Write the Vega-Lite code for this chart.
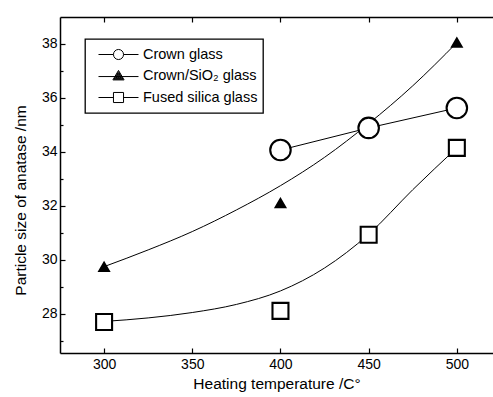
{
  "$schema": "https://vega.github.io/schema/vega-lite/v6.json",
  "width": 433,
  "height": 336,
  "autosize": "none",
  "padding": {"left": 60, "top": 17, "right": 0, "bottom": 44},
  "background": "white",
  "datasets": {
    "pts": [
      {"s": "Crown glass", "t": 400, "v": 34.07},
      {"s": "Crown glass", "t": 450, "v": 34.89},
      {"s": "Crown glass", "t": 500, "v": 35.63},
      {"s": "Crown/SiO₂ glass", "t": 300, "v": 29.74},
      {"s": "Crown/SiO₂ glass", "t": 400, "v": 32.1},
      {"s": "Crown/SiO₂ glass", "t": 500, "v": 38.05},
      {"s": "Fused silica glass", "t": 300, "v": 27.7},
      {"s": "Fused silica glass", "t": 400, "v": 28.11},
      {"s": "Fused silica glass", "t": 450, "v": 30.93},
      {"s": "Fused silica glass", "t": 500, "v": 34.15}
    ],
    "fit": [
      {"s": "Crown/SiO₂ glass", "t": 300, "v": 29.75},
      {"s": "Crown/SiO₂ glass", "t": 325, "v": 30.37},
      {"s": "Crown/SiO₂ glass", "t": 350, "v": 31.05},
      {"s": "Crown/SiO₂ glass", "t": 375, "v": 31.85},
      {"s": "Crown/SiO₂ glass", "t": 400, "v": 32.75},
      {"s": "Crown/SiO₂ glass", "t": 425, "v": 33.8},
      {"s": "Crown/SiO₂ glass", "t": 450, "v": 35.05},
      {"s": "Crown/SiO₂ glass", "t": 475, "v": 36.45},
      {"s": "Crown/SiO₂ glass", "t": 500, "v": 38.05},
      {"s": "Fused silica glass", "t": 300, "v": 27.72},
      {"s": "Fused silica glass", "t": 325, "v": 27.85},
      {"s": "Fused silica glass", "t": 350, "v": 28.05},
      {"s": "Fused silica glass", "t": 375, "v": 28.35},
      {"s": "Fused silica glass", "t": 400, "v": 28.85},
      {"s": "Fused silica glass", "t": 425, "v": 29.7},
      {"s": "Fused silica glass", "t": 450, "v": 30.95},
      {"s": "Fused silica glass", "t": 475, "v": 32.6},
      {"s": "Fused silica glass", "t": 500, "v": 34.15}
    ]
  },
  "resolve": {
    "axis": {"x": "independent", "y": "independent"},
    "scale": {"shape": "independent", "fill": "independent", "size": "independent"},
    "legend": {"shape": "independent", "fill": "independent", "size": "independent"}
  },
  "layer": [
    {
      "data": {"name": "pts"},
      "transform": [{"filter": "datum.s === 'Crown glass'"}],
      "mark": {"type": "line", "color": "black", "strokeWidth": 1},
      "encoding": {
        "x": {
          "field": "t", "type": "quantitative",
          "scale": {"domain": [275, 520.5], "nice": false, "zero": false},
          "axis": {
            "orient": "bottom",
            "values": [300, 350, 400, 450, 500],
            "tickSize": -5,
            "labelPadding": 9,
            "title": "Heating temperature /C°",
            "titlePadding": 5
          }
        },
        "y": {
          "field": "v", "type": "quantitative",
          "scale": {"domain": [26.55, 39], "nice": false, "zero": false},
          "axis": {
            "orient": "left",
            "values": [28, 30, 32, 34, 36, 38],
            "tickSize": -5,
            "labelPadding": 8,
            "title": "Particle size of anatase /nm",
            "titleX": -40,
            "titleY": 183,
            "titleAlign": "center",
            "titleBaseline": "middle"
          }
        }
      }
    },
    {
      "data": {"name": "fit"},
      "mark": {"type": "line", "color": "black", "strokeWidth": 1, "interpolate": "monotone"},
      "encoding": {
        "x": {
          "field": "t", "type": "quantitative",
          "axis": {"orient": "top", "values": [300, 350, 400, 450, 500], "tickSize": -5, "labels": false, "title": null}
        },
        "y": {
          "field": "v", "type": "quantitative",
          "axis": {"orient": "left", "values": [27, 29, 31, 33, 35, 37], "tickSize": -3, "labels": false, "domain": false, "title": null}
        },
        "detail": {"field": "s"}
      }
    },
    {
      "data": {"name": "pts"},
      "mark": {"type": "point", "filled": true, "stroke": "black", "strokeWidth": 2.1, "opacity": 1},
      "encoding": {
        "x": {"field": "t", "type": "quantitative", "axis": null},
        "y": {"field": "v", "type": "quantitative", "axis": null},
        "shape": {
          "field": "s", "type": "nominal",
          "scale": {"domain": ["Crown glass", "Crown/SiO₂ glass", "Fused silica glass"], "range": ["circle", "triangle-up", "square"]},
          "legend": null
        },
        "fill": {
          "field": "s", "type": "nominal",
          "scale": {"domain": ["Crown glass", "Crown/SiO₂ glass", "Fused silica glass"], "range": ["white", "black", "white"]},
          "legend": null
        },
        "size": {
          "field": "s", "type": "nominal",
          "scale": {"domain": ["Crown/SiO₂ glass", "Fused silica glass", "Crown glass"], "range": [90, 420]},
          "legend": null
        }
      }
    },
    {
      "data": {"name": "pts"},
      "mark": {"type": "point", "filled": false, "stroke": "black", "strokeWidth": 1, "opacity": 0},
      "encoding": {
        "shape": {
          "field": "s", "type": "nominal",
          "scale": {
            "domain": ["Crown glass", "Crown/SiO₂ glass", "Fused silica glass"],
            "range": [
              "M-0.714,0H-0.18M-0.18,0A0.18,0.18,0,1,1,0.18,0A0.18,0.18,0,1,1,-0.18,0ZM0.18,0H0.714",
              "M-0.714,0.02H0.714M0,-0.2L0.2,0.14L-0.2,0.14ZM0,-0.155L0.16,0.117L-0.16,0.117ZM0,-0.109L0.12,0.095L-0.12,0.095ZM0,-0.064L0.08,0.072L-0.08,0.072ZM0,-0.018L0.04,0.05L-0.04,0.05Z",
              "M-0.714,0H-0.18M0.18,0H0.714M-0.18,-0.18H0.18V0.18H-0.18Z"
            ]
          },
          "legend": {
            "orient": "none", "legendX": 25, "legendY": 22, "title": null,
            "padding": 5, "clipHeight": 21, "rowPadding": 0.5, "symbolSize": 3136,
            "labelOffset": -4, "labelFontSize": 14.5, "labelColor": "black",
            "fillColor": "white", "strokeColor": "black",
            "symbolStrokeColor": "black", "symbolStrokeWidth": 1, "symbolOpacity": 1,
            "labelExpr": "datum.label + '   '"
          }
        }
      }
    }
  ],
  "config": {
    "view": {"stroke": null},
    "font": "Liberation Sans",
    "axis": {
      "grid": false,
      "labelFont": "Liberation Sans",
      "titleFont": "Liberation Sans",
      "labelFontSize": 14,
      "titleFontSize": 15.5,
      "titleFontWeight": "normal",
      "labelColor": "black",
      "titleColor": "black",
      "domainColor": "black",
      "tickColor": "black",
      "domainWidth": 1.5,
      "tickWidth": 1.2
    },
    "legend": {
      "labelFont": "Liberation Sans",
      "strokeWidth": 1.3
    }
  }
}
